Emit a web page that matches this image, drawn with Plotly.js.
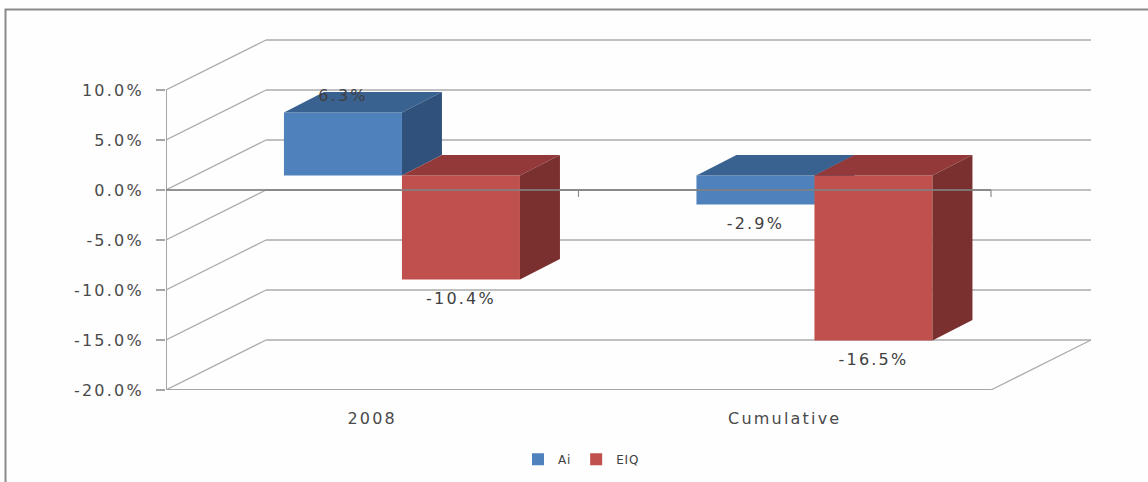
<!DOCTYPE html>
<html><head><meta charset="utf-8">
<script src="https://cdn.plot.ly/plotly-3.0.1.min.js"></script>
<style>
html,body{margin:0;padding:0;background:#fff;overflow:hidden}
.xtick text,.ytick text,.textpoint text{letter-spacing:2.2px}
.legendtext{letter-spacing:.8px}
</style></head><body><div id="chart" style="width:1148px;height:482px"></div>
<script>
const categories = ['2008', 'Cumulative'];
const seriesNames = ['Ai', 'EIQ'];
const aiValues = [6.3, -2.9];
const eiqValues = [-10.4, -16.5];
const yTicks = [10, 5, 0, -5, -10, -15, -20];
const yTickLabels = ['10.0%', '5.0%', '0.0%', '-5.0%', '-10.0%', '-15.0%', '-20.0%'];

// 3-D projection expressed in axis units
const wallDX = 100 / 412.5, wallDY = 5;
const plane = 1.45, planeDX = 0.072;
const barW = 118 / 412.5, depthDX = 40 / 412.5, depthDY = 2.05;
const nCat = categories.length;
const xRange = [0, 934 / 412.5], yRange = [-20, 16];

const colors = {
  Ai: {front: '#4f81bd', top: '#3a6291', side: '#30517b'},
  EIQ: {front: '#c0504d', top: '#93393a', side: '#7a302e'}
};

function line(xs, ys, color, width, axis) {
  return {type: 'scatter', mode: 'lines', x: xs, y: ys, xaxis: 'x' + (axis || ''), yaxis: 'y' + (axis || ''),
    line: {color: color, width: width}, showlegend: false, hoverinfo: 'skip', cliponaxis: false};
}
function poly(xs, ys, color, axis) {
  return {type: 'scatter', mode: 'lines', x: xs, y: ys, fill: 'toself', fillcolor: color, xaxis: 'x' + axis, yaxis: 'y' + axis,
    line: {width: 0, color: color}, showlegend: false, hoverinfo: 'skip', cliponaxis: false};
}

const traces = [];
// walls and floor (base subplot)
yTicks.forEach(v => {
  traces.push(line([0, wallDX], [v, v + wallDY], '#ababab', 1.2));
  traces.push(line([wallDX, nCat + wallDX], [v + wallDY, v + wallDY], '#c0c0c0', 2));
});
const yMin = Math.min(...yTicks), yMax = Math.max(...yTicks);
traces.push(line([0, 0], [yMin, yMax], '#a6a6a6', 2));
traces.push(line([0, nCat], [yMin, yMin], '#a6a6a6', 2));
traces.push(line([nCat, nCat + wallDX], [yMin, yMin + wallDY], '#ababab', 1.2));

function addSeries(name, values, shift, axis) {
  const c = colors[name];
  const xs = categories.map((_, i) => i + 0.5 + planeDX + shift);
  traces.push({type: 'bar', name: name, x: xs, y: values, base: values.map(() => plane), width: barW,
    xaxis: 'x' + axis, yaxis: 'y' + axis, marker: {color: c.front, line: {width: 0}}, showlegend: true});
  values.forEach((v, i) => {
    const l = xs[i] - barW / 2, r = xs[i] + barW / 2;
    const topV = plane + Math.max(v, 0), botV = plane + Math.min(v, 0);
    traces.push(poly([l, l + depthDX, r + depthDX, r, l], [topV, topV + depthDY, topV + depthDY, topV, topV], c.top, axis));
    traces.push(poly([r, r + depthDX, r + depthDX, r, r], [topV, topV + depthDY, botV + depthDY, botV, topV], c.side, axis));
  });
}
addSeries(seriesNames[0], aiValues, -barW / 2, '2');
addSeries(seriesNames[1], eiqValues, barW / 2, '3');

// zero line and category ticks on top of the bars
traces.push(line([0, nCat], [0, 0], 'rgba(128,128,128,0.85)', 2, '3'));
categories.forEach((_, i) => traces.push(line([i + 1, i + 1], [0, -0.7], '#8c8c8c', 1.2, '3')));

// data labels
const lblX = [], lblY = [], lblT = [];
[[aiValues, -barW / 2], [eiqValues, barW / 2]].forEach(([vals, shift]) => vals.forEach((v, i) => {
  lblX.push(i + 0.5 + planeDX + shift);
  lblY.push(plane + v + (v >= 0 ? 1.55 : -2.05));
  lblT.push(v.toFixed(1) + '%');
}));
traces.push({type: 'scatter', mode: 'text', x: lblX, y: lblY, text: lblT, textposition: 'middle center', xaxis: 'x3', yaxis: 'y3',
  textfont: {family: 'DejaVu Sans', size: 16, color: '#404040'}, showlegend: false, hoverinfo: 'skip', cliponaxis: false});

const hidden = {visible: false, fixedrange: true};
const layout = {
  width: 1148, height: 482,
  margin: {l: 166, r: 48, t: 30, b: 92, pad: 0, autoexpand: false},
  paper_bgcolor: '#fefefe', plot_bgcolor: 'rgba(0,0,0,0)',
  font: {family: 'DejaVu Sans', color: '#4a4a4a'},
  barmode: 'overlay', showlegend: true,
  xaxis: {range: xRange, showgrid: false, zeroline: false, showline: false, ticks: '',
    tickmode: 'array', tickvals: categories.map((_, i) => i + 0.5), ticktext: categories,
    ticklabelstandoff: 17, tickfont: {family: 'DejaVu Sans', size: 16, color: '#4a4a4a'}},
  yaxis: {range: yRange, showgrid: false, zeroline: false, showline: false,
    tickmode: 'array', tickvals: yTicks, ticktext: yTickLabels, ticks: 'outside', ticklen: 9, tickwidth: 2, tickcolor: '#a6a6a6',
    ticklabelstandoff: 9, tickfont: {family: 'DejaVu Sans', size: 16, color: '#4a4a4a'}},
  xaxis2: Object.assign({overlaying: 'x', range: xRange, anchor: 'y2'}, hidden),
  yaxis2: Object.assign({overlaying: 'y', range: yRange, anchor: 'x2'}, hidden),
  xaxis3: Object.assign({overlaying: 'x', range: xRange, anchor: 'y3'}, hidden),
  yaxis3: Object.assign({overlaying: 'y', range: yRange, anchor: 'x3'}, hidden),
  legend: {orientation: 'h', x: (518 - 166) / 934, y: -0.152, xanchor: 'left', yanchor: 'top',
    font: {family: 'DejaVu Sans', size: 12, color: '#404040'}, bgcolor: 'rgba(0,0,0,0)', itemclick: false, itemdoubleclick: false},
  shapes: [{type: 'path', xref: 'paper', yref: 'paper', layer: 'above',
    path: `M${(5.5 - 166) / 934},${(482 - 92 - 482) / 360} L${(5.5 - 166) / 934},${(390 - 9.5) / 360} L${(1148 - 166) / 934},${(390 - 9.5) / 360}`,
    line: {color: '#8a8a8a', width: 2}}]
};
Plotly.newPlot('chart', traces, layout, {displayModeBar: false, staticPlot: true});
</script></body></html>
